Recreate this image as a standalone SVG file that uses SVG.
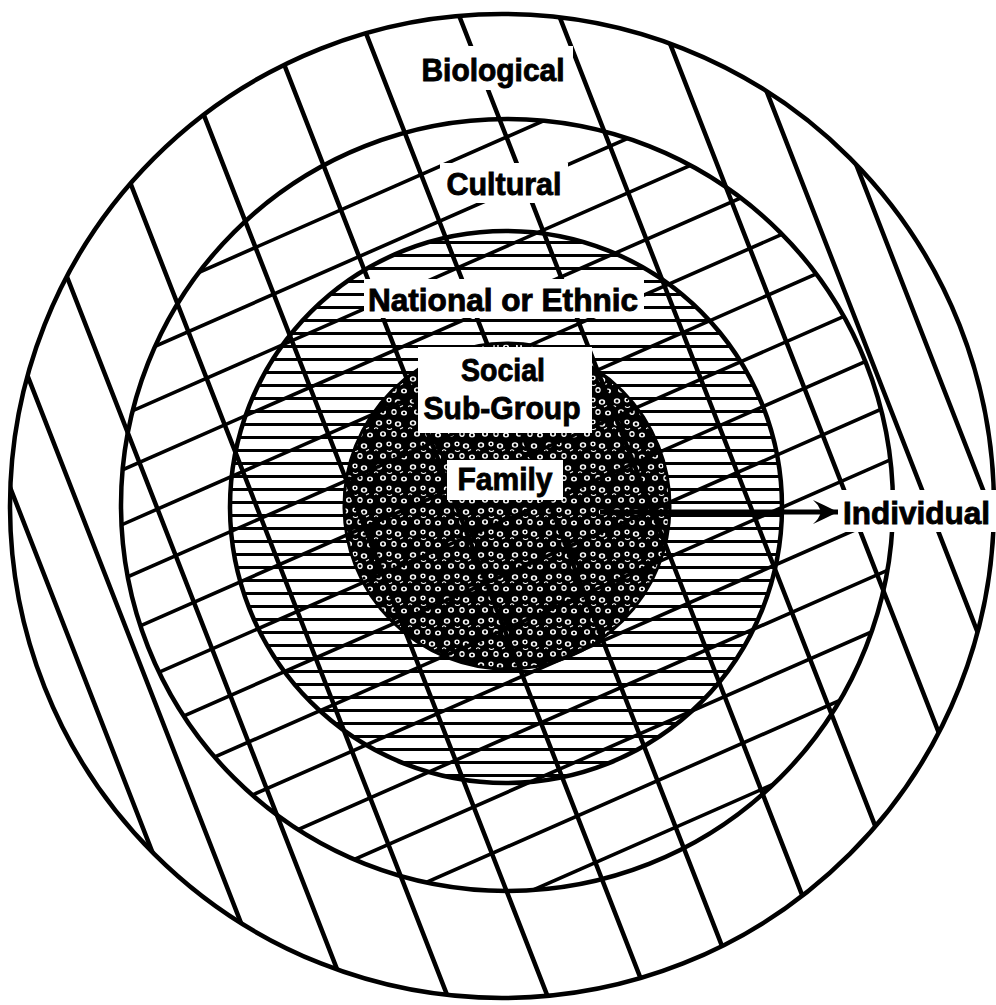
<svg xmlns="http://www.w3.org/2000/svg" width="996" height="1005" viewBox="0 0 996 1005">
  <style>
    .ring { fill: none; stroke: #000; stroke-width: 4.5; }
    .steep line { stroke: #000; stroke-width: 4.5; stroke-linecap: round; }
    .shallow line { stroke: #000; stroke-width: 3.6; stroke-linecap: round; }
    .knock { fill: #fff; stroke: none; }
    .lbl { font-family: "Liberation Sans", Arial, "DejaVu Sans", sans-serif; font-weight: bold; font-size: 32px; fill: #000; stroke: #000; stroke-width: 0.9; }
    .mid { text-anchor: middle; }
    .conn { stroke: #000; stroke-width: 5; fill: none; }
  </style>
  <defs>
    <pattern id="hlines" width="40" height="13" patternUnits="userSpaceOnUse" y="2">
      <rect x="0" y="5" width="40" height="3" fill="#000"/>
    </pattern>
    <pattern id="dots" width="34" height="22" patternUnits="userSpaceOnUse">
      <rect width="34" height="22" fill="#000"/>
      <g fill="#fff">
        <ellipse cx="5" cy="5" rx="3.2" ry="2.7"/>
        <ellipse cx="15" cy="4" rx="2.6" ry="2.4"/>
        <ellipse cx="24" cy="6" rx="3.2" ry="2.7"/>
        <ellipse cx="9" cy="16" rx="3" ry="2.7"/>
        <ellipse cx="20" cy="16" rx="2.7" ry="2.9"/>
        <ellipse cx="30" cy="17" rx="3" ry="2.5"/>
      </g>
      <g fill="#000">
        <circle cx="5" cy="5" r="1.6"/>
        <circle cx="24" cy="6" r="1.5"/>
        <circle cx="20" cy="16" r="1.5"/>
        <circle cx="9" cy="16" r="1.4"/>
        <circle cx="15" cy="4" r="1.2"/>
        <circle cx="30" cy="17" r="1.3"/>
      </g>
      <g fill="none" stroke="#fff" stroke-width="1.1">
        <path d="M0,11 q2,-2.5 4,0"/>
        <path d="M13,10.5 q2.5,2 5,0"/>
        <path d="M26,11 l3,-1.5"/>
      </g>
    </pattern>
    <clipPath id="clipOuter"><circle cx="502" cy="506" r="492"/></clipPath>
    <clipPath id="clipCultural"><circle cx="507" cy="505" r="386"/></clipPath>
    <marker id="arrowhead" markerUnits="userSpaceOnUse" markerWidth="30" markerHeight="30" viewBox="0 0 30 30" refX="28" refY="15" orient="auto">
      <path d="M3,3 Q14,8 28,15 Q14,22 3,27 Q9,22 11,15 Q9,8 3,3 Z" fill="#000"/>
    </marker>
  </defs>

  <rect width="996" height="1005" fill="#fff"/>

  <g id="hatching">
    <circle cx="506" cy="507" r="276" fill="url(#hlines)"/>
    <circle cx="507" cy="506" r="163" fill="url(#dots)"/>
    <g class="shallow" clip-path="url(#clipCultural)">
      <line x1="5.2" y1="357.6" x2="737.2" y2="35.6"/>
      <line x1="25.3" y1="403.4" x2="757.3" y2="81.4"/>
      <line x1="45.5" y1="449.1" x2="777.5" y2="127.1"/>
      <line x1="65.6" y1="494.9" x2="797.6" y2="172.9"/>
      <line x1="85.8" y1="540.6" x2="817.8" y2="218.6"/>
      <line x1="105.9" y1="586.4" x2="837.9" y2="264.4"/>
      <line x1="126.1" y1="632.1" x2="858.1" y2="310.1"/>
      <line x1="146.2" y1="677.9" x2="878.2" y2="355.9"/>
      <line x1="166.4" y1="723.6" x2="898.4" y2="401.6"/>
      <line x1="186.5" y1="769.4" x2="918.5" y2="447.4"/>
      <line x1="206.7" y1="815.1" x2="938.7" y2="493.1"/>
      <line x1="226.8" y1="860.9" x2="958.8" y2="538.9"/>
      <line x1="247.0" y1="906.6" x2="979.0" y2="584.6"/>
      <line x1="267.1" y1="952.4" x2="999.1" y2="630.4"/>
      <line x1="287.3" y1="998.1" x2="1019.3" y2="676.1"/>
    </g>
    <g class="steep" clip-path="url(#clipOuter)">
      <line x1="-180" y1="0" x2="212" y2="1005"/>
      <line x1="-119" y1="0" x2="273" y2="1005"/>
      <line x1="-41" y1="0" x2="351" y2="1005"/>
      <line x1="59" y1="0" x2="451" y2="1005"/>
      <line x1="159" y1="0" x2="551" y2="1005"/>
      <line x1="259" y1="0" x2="651" y2="1005"/>
      <line x1="353" y1="0" x2="745" y2="1005"/>
      <line x1="453" y1="0" x2="845" y2="1005"/>
      <line x1="553" y1="0" x2="945" y2="1005"/>
      <line x1="653" y1="0" x2="1045" y2="1005"/>
      <line x1="731" y1="0" x2="1123" y2="1005"/>
      <line x1="792" y1="0" x2="1184" y2="1005"/>
    </g>
  </g>

  <g id="biological">
    <circle class="ring" cx="502" cy="506" r="492"/>
    <rect class="knock" x="418" y="46" width="155" height="44"/>
    <text class="lbl mid" x="493" y="81" textLength="143" lengthAdjust="spacingAndGlyphs">Biological</text>
  </g>

  <g id="cultural">
    <circle class="ring" cx="507" cy="505" r="386"/>
    <rect class="knock" x="440" y="163" width="128" height="40"/>
    <text class="lbl mid" x="504" y="195" textLength="115" lengthAdjust="spacingAndGlyphs">Cultural</text>
  </g>

  <g id="national">
    <circle class="ring" cx="506" cy="507" r="276"/>
    <rect class="knock" x="364" y="279" width="280" height="39"/>
    <text class="lbl mid" x="503" y="311" textLength="270" lengthAdjust="spacingAndGlyphs">National or Ethnic</text>
  </g>

  <g id="social-sub-group">
    <circle cx="507" cy="506" r="163" fill="none" stroke="#000" stroke-width="3"/>
    <rect class="knock" x="418" y="347" width="174" height="86"/>
    <text class="lbl mid" x="503" y="381" textLength="84" lengthAdjust="spacingAndGlyphs">Social</text>
    <text class="lbl mid" x="502" y="419" textLength="157" lengthAdjust="spacingAndGlyphs">Sub-Group</text>
  </g>

  <g id="family">
    <rect class="knock" x="447" y="460" width="116" height="40"/>
    <text class="lbl mid" x="505" y="490" textLength="95" lengthAdjust="spacingAndGlyphs">Family</text>
  </g>

  <g id="individual">
    <rect class="knock" x="838" y="490" width="158" height="42"/>
    <text class="lbl" x="843" y="524" textLength="147" lengthAdjust="spacingAndGlyphs">Individual</text>
  </g>

  <g id="connectors">
    <line class="conn" x1="600" y1="512" x2="838" y2="512" marker-end="url(#arrowhead)"/>
  </g>
</svg>
